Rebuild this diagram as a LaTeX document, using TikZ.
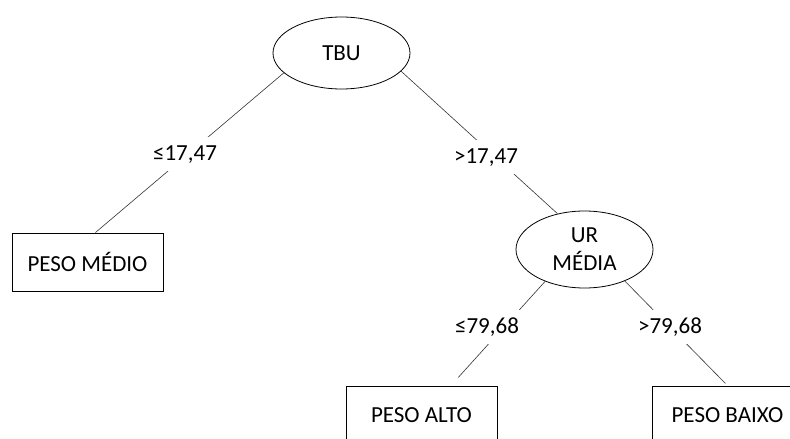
\documentclass[tikz,border=0pt]{standalone}
\usepackage{fontspec}
\setmainfont{Carlito}
\usetikzlibrary{shapes.geometric}
\begin{document}
\begin{tikzpicture}[x=1pt,y=-1pt,
  every node/.style={font=\fontsize{23}{28}\selectfont},
  decision/.style={ellipse,draw,line width=0.8pt,inner sep=0pt,minimum width=137pt,minimum height=72pt,align=center},
  leafbox/.style={rectangle,draw,line width=0.8pt,inner sep=0pt,minimum width=151pt,minimum height=58pt},
  edgelabel/.style={fill=white,inner xsep=1pt,inner ysep=8.5pt,text height=15pt,text depth=2pt,anchor=base},
  connector/.style={draw=black!80,line width=0.6pt}]
\useasboundingbox (0,0) rectangle (790,439);
\node[decision] (tbu) at (341.5,53) {TBU};
\node[decision,minimum height=77pt] (ur) at (584.5,249.5) {UR\\MÉDIA};
\node[leafbox] (pm) at (87.5,262) {PESO MÉDIO};
\node[leafbox] (pa) at (421.5,415) {PESO ALTO};
\node[leafbox] (pb) at (727.5,415) {PESO BAIXO};
\draw[connector] (tbu.199) -- (pm.75);
\draw[connector] (tbu.-17) -- (ur.127);
\draw[connector,shorten >=11pt] (ur.219) -- (pa.45.5);
\draw[connector,shorten >=3pt] (ur.-38) -- (pb.north);
\node[edgelabel] (l1) at (185,160) {≤17,47};
\node[edgelabel] (l2) at (486,163) {>17,47};
\node[edgelabel] (l3) at (487,333) {≤79,68};
\node[edgelabel] (l4) at (670,333) {>79,68};
\end{tikzpicture}
\end{document}
